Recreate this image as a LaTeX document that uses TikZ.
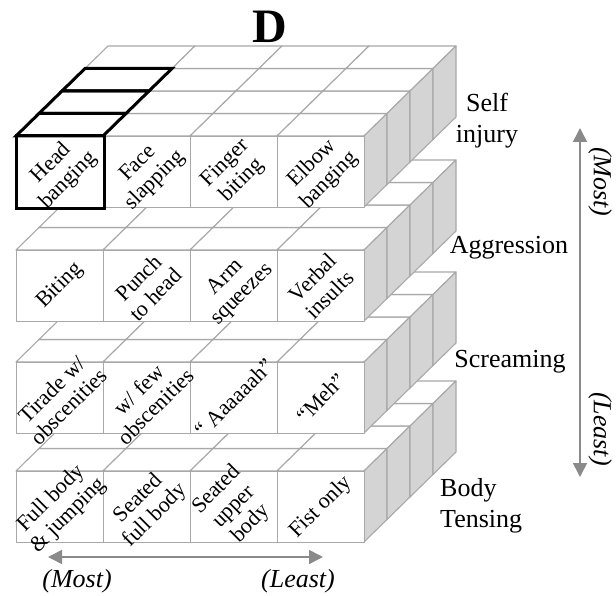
\documentclass[tikz,border=0pt]{standalone}
\usepackage{fontspec}
\setmainfont{Liberation Serif}
\usetikzlibrary{arrows.meta}
\definecolor{edgegray}{HTML}{A8A8A8}
\definecolor{sidegray}{HTML}{D4D4D4}
\definecolor{arrowgray}{HTML}{8A8A8A}
\begin{document}
\begin{tikzpicture}[x=1pt,y=-1pt,
  edge/.style={draw=edgegray,line width=1.1pt,line join=round},
  topface/.style={edge,fill=white},
  sideface/.style={edge,fill=sidegray},
  frontcell/.style={edge,fill=white,rectangle,inner sep=0pt,minimum width=87pt,minimum height=71pt,anchor=north west},
  celltext/.style={rotate=45,align=center,font=\fontsize{22}{24}\selectfont,inner sep=0pt},
  rowlabel/.style={font=\fontsize{26}{31}\selectfont,inner sep=0pt},
  axislabel/.style={font=\fontsize{26}{30}\selectfont\itshape,inner sep=0pt},
  thickline/.style={draw=black,line width=3pt,line join=miter},
  axisarrow/.style={draw=arrowgray,line width=1.6pt,{Triangle[length=14pt,width=14pt]}-{Triangle[length=14pt,width=14pt]}}
]
\useasboundingbox (0,0) rectangle (616,596);
\def\xo{16}\def\cw{87}\def\ch{71}\def\ddx{23}\def\ddy{-22.5}
% layers, bottom first
\foreach \T/\L in {471/4,362/3,250/2,136/1}{
  % top face
  \foreach \i in {0,...,3}{
    \foreach \j in {0,...,3}{
      \path[topface] (\xo+\i*\cw+\j*\ddx,\T+\j*\ddy) -- ++(\cw,0) -- ++(\ddx,\ddy) -- ++(-\cw,0) -- cycle;
    }
  }
  % right face
  \foreach \j in {0,...,3}{
    \path[sideface] (\xo+4*\cw+\j*\ddx,\T+\j*\ddy) -- ++(\ddx,\ddy) -- ++(0,\ch) -- ++(-\ddx,-\ddy) -- cycle;
  }
  % front cells
  \foreach \i in {0,...,3}{
    \node[frontcell] (c\L\i) at (\xo+\i*\cw,\T) {};
  }
}
% cell texts
\node[celltext] (t10) at (c10.center) {Head\\banging};
\node[celltext] (t11) at (c11.center) {Face\\slapping};
\node[celltext] (t12) at (c12.center) {Finger\\biting};
\node[celltext] (t13) at (c13.center) {Elbow\\banging};
\node[celltext] (t20) at (c20.center) {Biting};
\node[celltext] (t21) at (c21.center) {Punch\\to head};
\node[celltext] (t22) at (c22.center) {Arm\\squeezes};
\node[celltext] (t23) at (c23.center) {Verbal\\insults};
\node[celltext] (t30) at (c30.center) {Tirade w/\\obscenities};
\node[celltext] (t31) at (c31.center) {w/ few\\obscenities};
\node[celltext] (t32) at (c32.center) {“ Aaaaaah”};
\node[celltext] (t33) at (c33.center) {“Meh”};
\node[celltext] (t40) at (c40.center) {Full body\\\& jumping};
\node[celltext] (t41) at (c41.center) {Seated\\full body};
\node[celltext] (t42) at (c42.center) {Seated\\upper\\body};
\node[celltext] (t43) at (c43.center) {Fist only};
% highlighted cube (head banging)
\draw[thickline] (c10.north west) rectangle (c10.south east);
\foreach \j in {0,1,2}{
  \draw[thickline] (\xo+\j*\ddx,136+\j*\ddy) -- ++(\cw,0) -- ++(\ddx,\ddy) -- ++(-\cw,0) -- cycle;
}
% row labels
\node[rowlabel,align=center] (lself) at (487,121) {Self\\injury};
\node[rowlabel] (lagg) at (509,248) {Aggression};
\node[rowlabel] (lscr) at (510,362) {Screaming};
\node[rowlabel,align=left,anchor=west] (lbody) at (440,506) {Body\\Tensing};
% title
\node[font=\fontsize{48}{48}\selectfont\bfseries,inner sep=0pt] (title) at (270,27) {D};
% axes
\coordinate (vtop) at (580,128);
\coordinate (vbot) at (580,477);
\draw[axisarrow] (vbot) -- (vtop);
\node[axislabel,rotate=-90] (vmost) at (600,182) {(Most)};
\node[axislabel,rotate=-90] (vleast) at (600,429) {(Least)};
\coordinate (hleft) at (48,557);
\coordinate (hright) at (323,557);
\draw[axisarrow] (hleft) -- (hright);
\node[axislabel] (hmost) at (77,581) {(Most)};
\node[axislabel] (hleast) at (298,581) {(Least)};
\end{tikzpicture}
\end{document}
